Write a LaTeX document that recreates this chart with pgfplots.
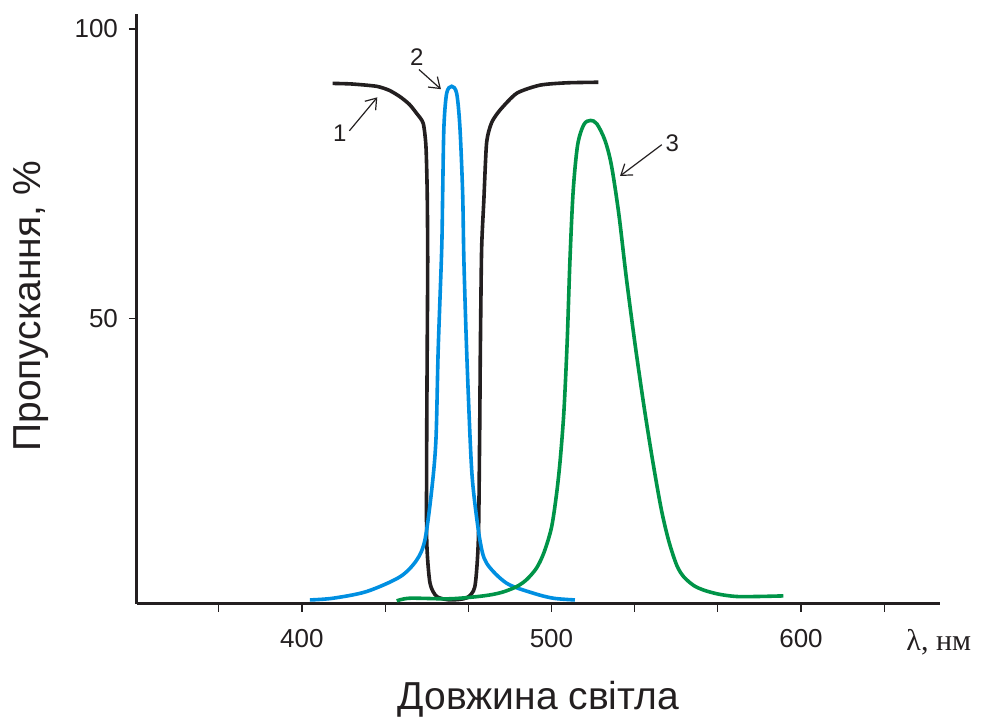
\documentclass[border=0pt]{standalone}
\usepackage{fontspec}
\setmainfont{Liberation Sans}
\newfontfamily\timesfont{Liberation Serif}
\usepackage{pgfplots}
\pgfplotsset{compat=1.18}
\usetikzlibrary{arrows.meta}
\definecolor{cblack}{RGB}{35,31,32}
\definecolor{cblue}{RGB}{0,143,225}
\definecolor{cgreen}{RGB}{0,148,72}

\begin{document}
\begin{tikzpicture}
\path[use as bounding box] (-68.5pt,-56.5pt) rectangle (422.5pt,302pt);
\begin{axis}[
  scale only axis, width=401.5pt, height=295pt,
  xmin=333.9, xmax=655.7, ymin=0.6, ymax=102.6,
  axis x line=bottom, axis y line=left,
  axis line style={-, line width=1.5pt, cblack},
  xtick={366.667,400,433.333,466.667,500,533.333,566.667,600,633.333},
  xticklabels={,400,,,500,,,600,},
  ytick={50,100},
  tick align=outside,
  major tick length=4pt,
  tick style={line width=0.6pt, cblack},
  ticklabel style={font=\fontsize{13}{15}\selectfont, text=cblack},
  /pgf/number format/assume math mode=true,
  xticklabel style={yshift=-5pt},
  yticklabel style={xshift=-2pt},
  xlabel={Довжина світла},
  ylabel={Пропускання, \%},
  label style={font=\fontsize{19.5}{22}\selectfont, text=cblack},
  xlabel style={at={(axis description cs:0.5,-0.178)}, anchor=base},
  ylabel style={at={(axis description cs:-0.1196,0.505)}, anchor=base},
  clip=false,
]
% curve 1 (black)
\addplot[cblack, line width=1.8pt, smooth, tension=0.4] coordinates {
(412.3,90.6) (420,90.5) (429.9,90.1) (435,89.4) (439.3,88.3) (443,87.0)
(446.0,85.4) (448.6,83.7) (449.7,79.7) (450.2,71.7) (450.4,60.1) (450.2,44.5)
(450.0,29.0) (450.0,11.7) (451.3,4.25) (454.0,1.9) (459.3,1.3) (466.0,1.66)
(469.3,3.6) (470.7,11.7) (471.2,29.0) (471.5,44.5) (472.0,61.8) (472.9,70.4)
(474.0,80.3) (476.0,83.8) (479.4,86.0) (486.1,88.9) (495.4,90.3) (506.1,90.7)
(518.8,90.8)
};
% curve 2 (blue)
\addplot[cblue, line width=1.8pt, smooth, tension=0.5] coordinates {
(403.2,1.3) (412.5,1.6) (425.9,2.75) (439.3,5.3) (446.0,8.2) (449.3,11.7)
(452.0,20.3) (453.7,29.0) (454.6,44.5) (456.0,61.8) (456.4,71.6) (456.9,83.1)
(458.0,88.9) (460.0,90.1) (462.0,88.9) (463.3,83.1) (464.4,71.7) (464.9,60.1)
(466.0,44.5) (467.6,27.2) (468.7,20.3) (471.3,11.7) (474.0,7.66) (482.0,4.2)
(492.7,2.47) (500.7,1.6) (509.4,1.3)
};
% curve 3 (green)
\addplot[cgreen, line width=1.8pt, smooth, tension=0.5] coordinates {
(438.0,1.14) (443.3,1.6) (459.3,1.5) (472.7,2.0) (480,2.6) (486,3.6)
(490,4.8) (494,6.8) (497,9.5) (500,13.8) (502,19.5) (503.5,25.5)
(505,34) (506.3,46) (507.4,60) (508.7,72) (510.5,80) (513,83.5)
(515.7,84.2) (518.2,83.6) (521.4,80.8) (524,76.5) (527,68) (530,57)
(533.5,45.5) (537,35) (540.5,25.5) (544,17) (547,11.5) (550.2,7.3)
(553,5.3) (557,3.8) (561,3.0) (567,2.3) (574,1.9) (583,1.9) (592.9,2.0)
};
% annotations
\node[font=\fontsize{12}{14}\selectfont, text=cblack] at (axis cs:415.2,82.0) {1};
\draw[cblack, line width=0.6pt, -{Straight Barb[length=5pt,width=7pt]}] (axis cs:419,82.4) -- (axis cs:430.2,88.2);
\node[font=\fontsize{12}{14}\selectfont, text=cblack] at (axis cs:446.0,95.2) {2};
\draw[cblack, line width=0.6pt, -{Straight Barb[length=5pt,width=7pt]}] (axis cs:446.9,93.0) -- (axis cs:455.7,89.6);
\node[font=\fontsize{12}{14}\selectfont, text=cblack] at (axis cs:548.4,80.2) {3};
\draw[cblack, line width=0.6pt, -{Straight Barb[length=5pt,width=7pt]}] (axis cs:544.2,80.0) -- (axis cs:527.5,74.6);
\node[anchor=base west, font=\timesfont\fontsize{15}{17}\selectfont, text=cblack, inner sep=0pt] at (axis cs:642.1,-7.5) {λ, нм};
\end{axis}
\end{tikzpicture}
\end{document}
